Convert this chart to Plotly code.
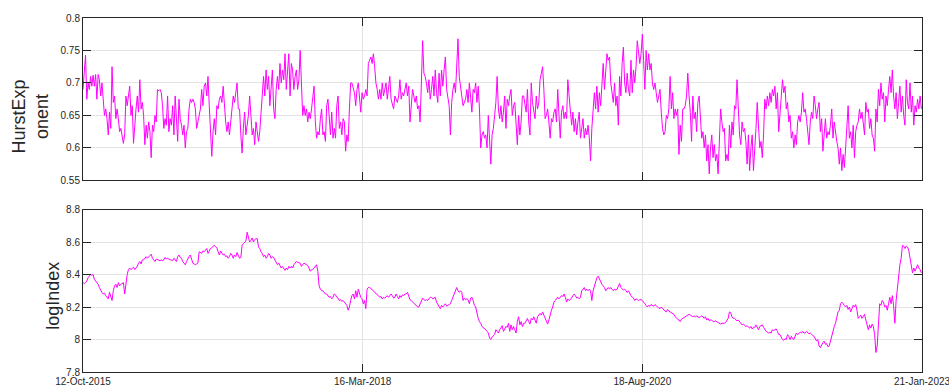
import pandas as pd
import plotly.graph_objects as go

# ---------------- data (sampled every 4 days from 12-Oct-2015) ----------------
start_date = "2015-10-12"
end_date = "2023-01-21"
step_days = 4

hurst_2015_2017 = [
    0.69, 0.725, 0.743, 0.675, 0.70, 0.69, 0.71, 0.695, 0.712, 0.695, 0.713, 0.675,
    0.713, 0.705, 0.68, 0.70, 0.665, 0.65, 0.66, 0.645, 0.62, 0.655, 0.63, 0.725,
    0.67, 0.68, 0.645, 0.66, 0.645, 0.625, 0.63, 0.615, 0.607, 0.62, 0.68, 0.665,
    0.68, 0.695, 0.65, 0.665, 0.607, 0.64, 0.66, 0.68, 0.655, 0.705, 0.66, 0.67,
    0.65, 0.605, 0.635, 0.615, 0.64, 0.625, 0.585, 0.635, 0.625, 0.65, 0.64, 0.69,
    0.688, 0.69, 0.685, 0.665, 0.63, 0.645, 0.635, 0.68, 0.625, 0.645, 0.635, 0.665,
    0.62, 0.68, 0.635, 0.61, 0.675, 0.645, 0.635, 0.62, 0.635, 0.60, 0.625, 0.63,
    0.66, 0.675, 0.67, 0.675, 0.67, 0.66, 0.63, 0.64, 0.645, 0.66, 0.69, 0.665,
    0.695, 0.70, 0.68, 0.71, 0.665, 0.62, 0.587, 0.625, 0.645, 0.62, 0.665, 0.66,
    0.675, 0.68, 0.67, 0.695, 0.66, 0.64, 0.625, 0.64, 0.62, 0.645, 0.66, 0.68,
    0.67, 0.685, 0.70, 0.66, 0.66, 0.62, 0.592, 0.63, 0.655, 0.62, 0.635, 0.65,
    0.68, 0.64, 0.62, 0.63, 0.605, 0.64, 0.62, 0.61, 0.625, 0.655, 0.68, 0.71,
    0.68, 0.72, 0.69, 0.71, 0.665, 0.70, 0.72, 0.66, 0.645, 0.69, 0.71, 0.69,
    0.73, 0.70, 0.72, 0.705, 0.745, 0.69, 0.72, 0.745, 0.68, 0.73, 0.72, 0.69,
    0.71, 0.72, 0.69, 0.705,
]
hurst_2017_2020 = [
    0.75, 0.70, 0.65, 0.665, 0.65, 0.66, 0.64, 0.655, 0.645, 0.66, 0.68, 0.695,
    0.64, 0.615, 0.625, 0.62, 0.645, 0.66, 0.62, 0.625, 0.61, 0.665, 0.675, 0.64,
    0.62, 0.655, 0.615, 0.63, 0.615, 0.665, 0.68, 0.63, 0.64, 0.62, 0.645, 0.64,
    0.595, 0.62, 0.61, 0.66, 0.70, 0.70, 0.69, 0.685, 0.665, 0.69, 0.70, 0.675,
    0.655, 0.685, 0.675, 0.68, 0.69, 0.68, 0.73, 0.735, 0.74, 0.73, 0.745, 0.725,
    0.70, 0.69, 0.675, 0.69, 0.675, 0.70, 0.68, 0.69, 0.70, 0.675, 0.69, 0.71,
    0.675, 0.665, 0.66, 0.68, 0.675, 0.67, 0.68, 0.705, 0.675, 0.685, 0.68, 0.69,
    0.70, 0.68, 0.695, 0.64, 0.675, 0.69, 0.68, 0.67, 0.68, 0.66, 0.665, 0.64,
    0.70, 0.765, 0.715, 0.71, 0.70, 0.685, 0.705, 0.675, 0.69, 0.71, 0.68, 0.72,
    0.685, 0.67, 0.715, 0.68, 0.72, 0.695, 0.72, 0.74, 0.69, 0.68, 0.665, 0.62,
    0.67, 0.69, 0.70, 0.685, 0.72, 0.768, 0.71, 0.69, 0.68, 0.665, 0.67, 0.675,
    0.69, 0.67, 0.70, 0.68, 0.655, 0.69, 0.685, 0.70, 0.67, 0.695, 0.66, 0.60,
    0.62, 0.625, 0.615, 0.62, 0.60, 0.65, 0.62, 0.575, 0.62, 0.63, 0.65, 0.67,
    0.71, 0.66, 0.645, 0.665, 0.64, 0.655, 0.68, 0.63, 0.675, 0.665, 0.68, 0.69,
    0.65, 0.665, 0.67, 0.64, 0.605, 0.65, 0.62, 0.64, 0.68, 0.68, 0.665, 0.655,
    0.69, 0.64, 0.62, 0.70, 0.67, 0.66, 0.645, 0.68, 0.66, 0.67, 0.705, 0.715,
    0.725, 0.69, 0.645, 0.65, 0.66, 0.64, 0.615, 0.645, 0.64, 0.655, 0.66, 0.64,
    0.69, 0.65, 0.615, 0.655, 0.665, 0.645, 0.655, 0.645, 0.705, 0.68, 0.66, 0.635,
    0.655, 0.625, 0.645, 0.62, 0.64, 0.655, 0.615, 0.63, 0.645, 0.615, 0.63, 0.62,
    0.635, 0.615, 0.58, 0.63, 0.665, 0.685, 0.66, 0.695, 0.655, 0.685, 0.665, 0.70,
    0.73, 0.69, 0.72, 0.745,
]
hurst_2020_2023 = [
    0.735, 0.74, 0.70, 0.685, 0.67, 0.70, 0.665, 0.68, 0.635, 0.71, 0.68, 0.73,
    0.755, 0.70, 0.685, 0.715, 0.69, 0.68, 0.735, 0.685, 0.72, 0.70, 0.725, 0.765,
    0.74, 0.73, 0.745, 0.775, 0.735, 0.69, 0.75, 0.72, 0.745, 0.72, 0.73, 0.70,
    0.69, 0.70, 0.685, 0.67, 0.68, 0.69, 0.655, 0.63, 0.62, 0.625, 0.65, 0.645,
    0.66, 0.71, 0.66, 0.685, 0.645, 0.66, 0.65, 0.66, 0.59, 0.635, 0.61, 0.66,
    0.66, 0.665, 0.68, 0.715, 0.68, 0.655, 0.61, 0.68, 0.645, 0.655, 0.625, 0.67,
    0.68, 0.64, 0.615, 0.625, 0.60, 0.62, 0.58, 0.605, 0.56, 0.60, 0.62, 0.585,
    0.605, 0.58, 0.59, 0.56, 0.60, 0.66, 0.64, 0.625, 0.63, 0.58, 0.59, 0.58,
    0.635, 0.60, 0.64, 0.62, 0.665, 0.66, 0.705, 0.66, 0.62, 0.605, 0.64, 0.625,
    0.63, 0.61, 0.575, 0.62, 0.565, 0.60, 0.62, 0.565, 0.61, 0.63, 0.67, 0.64,
    0.60, 0.61, 0.585, 0.62, 0.675, 0.66, 0.68, 0.665, 0.685, 0.67, 0.69, 0.68,
    0.695, 0.66, 0.685, 0.625, 0.65, 0.67, 0.705, 0.685, 0.695, 0.66, 0.67, 0.64,
    0.65, 0.615, 0.625, 0.60, 0.62, 0.605, 0.64, 0.65, 0.64, 0.655, 0.685, 0.655,
    0.66, 0.645, 0.625, 0.605, 0.64, 0.655, 0.645, 0.68, 0.665, 0.645, 0.66, 0.67,
    0.625, 0.645, 0.595, 0.62, 0.645, 0.615, 0.625, 0.62, 0.635, 0.66, 0.615, 0.64,
    0.62, 0.61, 0.60, 0.575, 0.60, 0.565, 0.59, 0.57, 0.60, 0.64, 0.665, 0.615,
    0.625, 0.60, 0.635, 0.585, 0.625, 0.635, 0.64, 0.66, 0.645, 0.655, 0.64, 0.62,
    0.67, 0.655, 0.66, 0.63, 0.645, 0.62, 0.615, 0.595, 0.66, 0.64, 0.69, 0.665,
    0.70, 0.675, 0.685, 0.64, 0.68, 0.665, 0.69, 0.71, 0.685, 0.72, 0.68, 0.66,
    0.685, 0.645, 0.67, 0.695, 0.655, 0.68, 0.65, 0.635, 0.705, 0.67, 0.66, 0.70,
    0.655, 0.68, 0.635, 0.665, 0.655, 0.675, 0.66, 0.68, 0.66,
]

logindex_2015_2017 = [
    8.35, 8.345, 8.35, 8.36, 8.38, 8.39, 8.40, 8.395, 8.40, 8.37, 8.36, 8.35,
    8.34, 8.32, 8.30, 8.29, 8.28, 8.285, 8.27, 8.26, 8.25, 8.29, 8.26, 8.24,
    8.30, 8.33, 8.34, 8.32, 8.35, 8.33, 8.34, 8.345, 8.35, 8.28, 8.36, 8.40,
    8.43, 8.44, 8.43, 8.44, 8.445, 8.43, 8.44, 8.45, 8.47, 8.48, 8.465, 8.49,
    8.49, 8.50, 8.51, 8.50, 8.51, 8.515, 8.525, 8.50, 8.49, 8.48, 8.495, 8.49,
    8.49, 8.485, 8.49, 8.485, 8.49, 8.505, 8.495, 8.50, 8.495, 8.49, 8.49, 8.485,
    8.50, 8.49, 8.48, 8.51, 8.52, 8.505, 8.50, 8.48, 8.47, 8.46, 8.48, 8.50,
    8.51, 8.52, 8.495, 8.47, 8.465, 8.46, 8.465, 8.47, 8.54, 8.535, 8.53, 8.545,
    8.54, 8.55, 8.56, 8.53, 8.545, 8.56, 8.565, 8.575, 8.58, 8.57, 8.565, 8.54,
    8.52, 8.545, 8.53, 8.52, 8.525, 8.51, 8.515, 8.50, 8.51, 8.53, 8.52, 8.50,
    8.52, 8.51, 8.535, 8.52, 8.50, 8.505, 8.58, 8.59, 8.60, 8.605, 8.66, 8.62,
    8.60, 8.61, 8.625, 8.60, 8.615, 8.62, 8.62, 8.57, 8.56, 8.54, 8.53, 8.51,
    8.52, 8.50, 8.51, 8.53, 8.52, 8.50, 8.51, 8.505, 8.49, 8.475, 8.46, 8.47,
    8.45, 8.44, 8.45, 8.44, 8.425, 8.44, 8.43, 8.45, 8.44, 8.45, 8.44, 8.46,
    8.47, 8.48, 8.475, 8.47,
]
logindex_2017_2020 = [
    8.47, 8.45, 8.46, 8.47, 8.465, 8.46, 8.455, 8.44, 8.42, 8.43, 8.43, 8.44,
    8.45, 8.46, 8.42, 8.33, 8.31, 8.30, 8.30, 8.29, 8.28, 8.28, 8.27, 8.26,
    8.265, 8.25, 8.26, 8.28, 8.275, 8.26, 8.255, 8.24, 8.245, 8.235, 8.24, 8.23,
    8.22, 8.21, 8.18, 8.20, 8.24, 8.27, 8.28, 8.25, 8.30, 8.26, 8.31, 8.28,
    8.26, 8.25, 8.22, 8.24, 8.19, 8.31, 8.32, 8.32, 8.315, 8.31, 8.30, 8.29,
    8.285, 8.28, 8.27, 8.26, 8.265, 8.25, 8.26, 8.255, 8.26, 8.27, 8.26, 8.27,
    8.28, 8.27, 8.255, 8.26, 8.28, 8.265, 8.25, 8.27, 8.26, 8.275, 8.27, 8.28,
    8.28, 8.29, 8.27, 8.245, 8.24, 8.23, 8.22, 8.215, 8.21, 8.20, 8.20, 8.22,
    8.24, 8.255, 8.245, 8.24, 8.245, 8.24, 8.25, 8.26, 8.26, 8.25, 8.255, 8.26,
    8.23, 8.215, 8.20, 8.19, 8.21, 8.20, 8.21, 8.22, 8.205, 8.21, 8.22, 8.22,
    8.24, 8.26, 8.29, 8.31, 8.32, 8.30, 8.29, 8.30, 8.29, 8.24, 8.255, 8.245,
    8.25, 8.245, 8.22, 8.255, 8.26, 8.24, 8.21, 8.20, 8.15, 8.13, 8.11, 8.10,
    8.08, 8.075, 8.065, 8.06, 8.05, 8.04, 8.01, 8.00, 8.015, 8.02, 8.03, 8.06,
    8.05, 8.04, 8.06, 8.07, 8.085, 8.05, 8.07, 8.08, 8.075, 8.10, 8.05, 8.09,
    8.06, 8.08, 8.06, 8.04, 8.11, 8.14, 8.09, 8.11, 8.08, 8.10, 8.10, 8.12,
    8.13, 8.11, 8.095, 8.13, 8.12, 8.14, 8.12, 8.10, 8.14, 8.15, 8.16, 8.15,
    8.17, 8.15, 8.13, 8.12, 8.095, 8.12, 8.16, 8.18, 8.20, 8.23, 8.24, 8.25,
    8.26, 8.25, 8.26, 8.27, 8.265, 8.28, 8.26, 8.23, 8.25, 8.24, 8.245, 8.26,
    8.27, 8.28, 8.27, 8.255, 8.26, 8.25, 8.26, 8.30, 8.31, 8.32, 8.30, 8.31,
    8.30, 8.31, 8.30, 8.24, 8.30, 8.33, 8.36, 8.38, 8.39, 8.37, 8.36, 8.34,
    8.33, 8.32, 8.30, 8.31,
]
logindex_2020_2023 = [
    8.32, 8.31, 8.32, 8.31, 8.30, 8.31, 8.305, 8.31, 8.33, 8.345, 8.32, 8.31,
    8.305, 8.31, 8.30, 8.29, 8.30, 8.28, 8.27, 8.26, 8.255, 8.24, 8.25, 8.245,
    8.24, 8.245, 8.245, 8.24, 8.225, 8.22, 8.21, 8.20, 8.21, 8.205, 8.215, 8.21,
    8.205, 8.215, 8.205, 8.20, 8.195, 8.19, 8.20, 8.19, 8.18, 8.175, 8.17, 8.185,
    8.175, 8.17, 8.16, 8.16, 8.155, 8.14, 8.13, 8.125, 8.12, 8.11, 8.125, 8.13,
    8.135, 8.14, 8.15, 8.15, 8.155, 8.15, 8.145, 8.14, 8.145, 8.14, 8.145, 8.14,
    8.135, 8.14, 8.145, 8.14, 8.13, 8.14, 8.12, 8.13, 8.115, 8.12, 8.12, 8.11,
    8.11, 8.115, 8.11, 8.105, 8.10, 8.095, 8.10, 8.10, 8.10, 8.105, 8.12, 8.13,
    8.17, 8.165, 8.14, 8.13, 8.13, 8.12, 8.115, 8.12, 8.11, 8.10, 8.09, 8.095,
    8.09, 8.08, 8.085, 8.075, 8.07, 8.08, 8.065, 8.075, 8.075, 8.09, 8.075, 8.06,
    8.08, 8.085, 8.09, 8.075, 8.06, 8.05, 8.045, 8.04, 8.045, 8.04, 8.06, 8.055,
    8.06, 8.065, 8.05, 8.03, 8.03, 8.01, 8.00, 7.995, 8.005, 8.00, 8.03, 8.02,
    8.00, 8.02, 8.005, 8.00, 8.02, 8.04, 8.03, 8.035, 8.045, 8.04, 8.05, 8.04,
    8.04, 8.05, 8.04, 8.035, 8.04, 8.03, 8.025, 8.02, 8.00, 7.99, 8.00, 7.96,
    7.95, 7.97, 7.98, 7.99, 7.97, 7.975, 7.955, 7.96, 7.99, 8.02, 8.06, 8.08,
    8.10, 8.14, 8.17, 8.18, 8.22, 8.23, 8.215, 8.21, 8.20, 8.21, 8.185, 8.20,
    8.17, 8.19, 8.21, 8.20, 8.215, 8.18, 8.13, 8.14, 8.15, 8.13, 8.14, 8.155,
    8.12, 8.08, 8.06, 8.09, 8.07, 8.095, 8.08, 8.03, 7.92, 7.96, 8.14, 8.22,
    8.21, 8.24, 8.23, 8.20, 8.21, 8.18, 8.22, 8.26, 8.22, 8.27, 8.21, 8.10,
    8.24, 8.33, 8.38, 8.46, 8.50, 8.58, 8.575, 8.56, 8.575, 8.57, 8.55, 8.50,
    8.44, 8.41, 8.44, 8.42, 8.44, 8.46, 8.44, 8.43, 8.41,
]

x_tick_dates = ["2015-10-12", "2018-03-16", "2020-08-18", "2023-01-21"]
hurst_ticks = [0.55, 0.6, 0.65, 0.7, 0.75, 0.8]
hurst_tick_text = ["0.55", "0.6", "0.65", "0.7", "0.75", "0.8"]
log_ticks = [7.8, 8.0, 8.2, 8.4, 8.6, 8.8]
log_tick_text = ["7.8", "8", "8.2", "8.4", "8.6", "8.8"]

# ---------------- build ----------------
hurst = hurst_2015_2017 + hurst_2017_2020 + hurst_2020_2023
logindex = logindex_2015_2017 + logindex_2017_2020 + logindex_2020_2023
dates_h = pd.date_range(start_date, periods=len(hurst), freq=f"{step_days}D")
dates_l = pd.date_range(start_date, periods=len(logindex), freq=f"{step_days}D")

LINE = "#ff00ff"
AX = "#262626"
GRID = "#e3e3e3"
FONT = "Liberation Sans, Arial, Helvetica, sans-serif"

fig = go.Figure()
fig.add_trace(go.Scatter(x=dates_h, y=hurst, mode="lines", xaxis="x2", yaxis="y2",
                         line=dict(color=LINE, width=1), showlegend=False))
fig.add_trace(go.Scatter(x=dates_l, y=logindex, mode="lines", xaxis="x", yaxis="y",
                         line=dict(color=LINE, width=1), showlegend=False))

common = dict(showline=True, linecolor=AX, linewidth=1, mirror="allticks",
              ticks="inside", ticklen=8, tickcolor=AX, tickwidth=1,
              showgrid=True, gridcolor=GRID, gridwidth=1, zeroline=False,
              ticklabeloverflow="allow", automargin=False,
              tickfont=dict(family=FONT, size=10, color=AX))

xcommon = dict(common, type="date", range=[start_date, end_date],
               tickvals=x_tick_dates, tickformat="%d-%b-%Y")

fig.update_layout(
    width=949, height=388,
    margin=dict(l=83, r=26.5, t=18, b=15.7, autoexpand=False),
    paper_bgcolor="white", plot_bgcolor="white",
    font=dict(family=FONT, color=AX),
    xaxis=dict(xcommon, anchor="y", domain=[0, 1]),
    yaxis=dict(common, anchor="x", domain=[0, 0.459], range=[7.8, 8.8],
               tickvals=log_ticks, ticktext=log_tick_text),
    xaxis2=dict(xcommon, anchor="y2", domain=[0, 1], showticklabels=False),
    yaxis2=dict(common, anchor="x2", domain=[0.5413, 1], range=[0.55, 0.8],
                tickvals=hurst_ticks, ticktext=hurst_tick_text),
    annotations=[
        dict(text="HurstExp<br>onent", textangle=-90, xref="paper", yref="paper",
             x=-0.0631, y=0.722, xanchor="center", yanchor="middle", showarrow=False,
             font=dict(family=FONT, size=18, color=AX)),
        dict(text="logIndex", textangle=-90, xref="paper", yref="paper",
             x=-0.0367, y=0.216, xanchor="center", yanchor="middle", showarrow=False,
             font=dict(family=FONT, size=18, color=AX)),
    ],
)

fig.write_html(
    "out.html",
    config={"displayModeBar": False},
    post_script="document.body.style.margin='0';document.body.style.overflow='hidden';",
)
